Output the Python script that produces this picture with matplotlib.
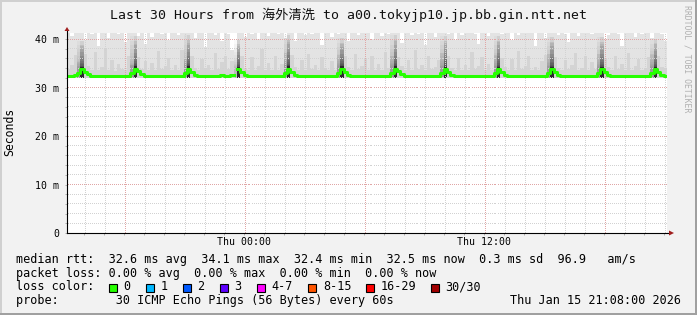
import numpy as np
import pandas as pd
import matplotlib
matplotlib.use("Agg")
import matplotlib.pyplot as plt
import matplotlib.dates as mdates
from matplotlib.patches import Rectangle, Polygon
from matplotlib.ticker import MultipleLocator, FixedLocator, FuncFormatter

W, H = 697, 315
MONO = "DejaVu Sans Mono"

# ---------------------------
# Data: rtt in ms, one sample per 10 minutes, one row per hour
# ---------------------------
start = "2026-01-14 15:08"
nan = np.nan

median_ms = [
    32.4, 32.4, 32.5, 33.0, 33.8, 33.3,
    32.7, 32.4, 32.4, 32.3, 32.4, 32.4,
    32.4, 32.3, 32.4, 32.4, 32.4, 32.4,
    32.4, 33.0, 33.8, 33.4, 32.7, 32.4,
    32.4, 32.4, 32.3, 32.4, 32.4, 32.4,
    32.4, 32.4, 32.4, 32.3, 32.4, 33.0,
    33.8, 33.3, 32.6, 32.4, 32.4, 32.4,
    32.4, 32.4, 32.3, 32.4, 32.6, 32.4,
    32.4, 32.5, nan, 33.8, 33.2, 32.6,
    32.4, 32.4, 32.4, 32.4, 32.3, 32.4,
    32.4, 32.4, 32.4, 32.4, 32.4, 33.0,
    33.8, 33.3, 32.6, 32.4, 32.4, 32.4,
    32.4, 32.3, 32.4, 32.4, 32.4, 32.4,
    32.4, 32.4, 32.4, 33.0, 33.8, 33.3,
    32.6, 32.4, 32.4, 32.4, 32.3, 32.4,
    32.4, 32.4, 32.4, 32.4, 32.4, 32.4,
    32.4, 33.0, 33.8, 33.4, 32.7, 32.4,
    32.4, 32.4, 32.3, 32.4, 32.4, 32.4,
    32.4, 32.4, 32.4, 32.4, 33.0, 33.8,
    33.3, 32.6, 32.4, 32.4, 32.4, 32.4,
    32.4, 32.3, 32.4, 32.4, 32.4, 32.4,
    32.4, 32.4, 33.0, 33.8, 33.3, 32.6,
    32.4, 32.4, 32.4, 32.4, 32.3, 32.4,
    32.4, 32.4, 32.4, 32.4, 32.4, 32.4,
    33.0, 33.8, 33.3, 32.6, 32.4, 32.4,
    32.4, 32.3, 32.4, 32.4, 32.4, 32.4,
    32.4, 32.4, 32.4, 33.0, 33.8, 33.3,
    32.6, 32.4, 32.4, 32.4, 32.3, 32.4,
    32.4, 32.4, 32.4, 32.4, 32.4, 32.4,
    32.4, 33.0, 33.8, 33.3, 32.6, 32.4,
]

# slowest ping of each sample (top of the light smoke)
smoke_max_ms = [
    42, 40.6, 42, 42, 42, 39.8,
    42, 41.0, 42, 38.6, 42, 42,
    40.2, 42, 42, 41.1, 42, 39.4,
    42, 42, 42, 40.7, 42, 38.9,
    42, 40.4, 42, 42, 41.0, 42,
    39.7, 42, 42, 40.8, 42, 42,
    42, 42, 40.3, 42, 41.2, 38.4,
    42, 42, 40.9, 42, 39.6, 42,
    41.0, 37.8, nan, 42, 42, 40.5,
    42, 41.1, 42, 39.9, 42, 42,
    40.7, 42, 42, 41.0, 42, 40.2,
    42, 42, 39.5, 42, 42, 40.8,
    42, 41.1, 42, 42, 38.8, 42,
    42, 40.5, 42, 41.0, 42, 42,
    39.6, 42, 42, 40.9, 42, 41.2,
    42, 39.9, 42, 42, 40.6, 42,
    41.0, 42, 42, 42, 39.2, 42,
    42, 40.8, 42, 41.1, 42, 38.7,
    42, 42, 40.4, 42, 42, 42,
    41.0, 42, 39.8, 42, 40.9, 42,
    42, 42, 41.1, 38.9, 42, 42,
    40.6, 42, 42, 42, 41.0, 42,
    42, 39.7, 42, 40.8, 42, 42,
    42, 41.2, 38.5, 42, 42, 40.3,
    42, 42, 42, 40.9, 42, 41.0,
    39.4, 42, 42, 40.6, 42, 42,
    42, 41.1, 42, 42, 42, 39.9,
    40.8, 42, 42, 41.0, 38.6, 42,
    42, 42, 40.5, 42, 41.1, 42,
    42, 40.2, 42, 42, 41.0, 39.5,
]

# upper pings (denser part of the smoke)
smoke_mid_ms = [
    33.8, 34.6, 36.8, 35.2, 38.5, 37.0,
    34.4, 33.6, 37.4, 33.7, 34.2, 38.2,
    33.6, 35.6, 33.5, 34.9, 33.8, 33.6,
    36.6, 34.6, 39.0, 36.2, 33.8, 35.4,
    33.6, 35.0, 33.7, 37.6, 33.9, 34.4,
    36.0, 33.6, 34.6, 33.7, 37.8, 36.0,
    39.2, 36.6, 34.0, 33.6, 35.8, 33.8,
    34.6, 33.7, 37.2, 33.9, 35.2, 36.4,
    33.8, 35.5, nan, 38.6, 36.5, 34.0,
    33.6, 36.2, 33.7, 34.4, 37.9, 33.6,
    35.0, 33.7, 36.4, 33.6, 34.8, 37.2,
    39.4, 36.8, 34.2, 33.7, 35.6, 33.6,
    37.0, 33.8, 34.6, 33.6, 36.2, 33.9,
    33.6, 35.4, 33.7, 36.8, 39.0, 36.4,
    34.2, 33.6, 37.0, 33.8, 34.4, 35.8,
    33.7, 36.6, 33.6, 34.8, 33.7, 37.4,
    34.0, 36.6, 39.6, 36.2, 34.4, 33.7,
    35.6, 33.6, 37.8, 33.9, 34.6, 33.6,
    36.4, 33.8, 34.2, 35.6, 37.2, 39.2,
    36.4, 34.0, 33.6, 36.0, 33.7, 34.6,
    33.6, 37.4, 33.8, 34.4, 36.2, 33.6,
    34.8, 33.7, 36.8, 39.4, 36.0, 34.2,
    33.6, 35.8, 33.7, 37.6, 33.8, 34.4,
    36.6, 33.6, 34.2, 33.7, 35.4, 36.8,
    37.0, 39.2, 36.2, 34.0, 33.6, 35.6,
    33.8, 34.6, 37.2, 33.6, 34.0, 36.4,
    33.6, 35.2, 33.8, 37.0, 39.0, 36.0,
    34.2, 33.6, 36.6, 33.8, 34.8, 33.6,
    37.2, 33.7, 34.4, 35.8, 33.6, 34.0,
    36.2, 37.0, 39.2, 36.4, 34.2, 33.8,
]
smoke_floor_ms = 32.0

# periodic rtt bumps: sample index, top of dark smoke, top of black core
bump_idx = [4, 20, 36, 51, 66, 82, 98, 113, 129, 145, 160, 176]
bump_smoke_top = [39.6, 40.6, 40.8, 39.8, 40.8, 40.2, 40.8, 40.6, 40.6, 40.4, 40.4, 40.0]
bump_core_top = [34.2, 34.4, 34.4, 34.2, 34.5, 34.4, 34.4, 34.3, 34.3, 34.3, 34.2, 34.2]

loss_labels = ["0", "1", "2", "3", "4-7", "8-15", "16-29", "30/30"]
loss_colors = ["#26ff00", "#00b8ff", "#0059ff", "#5e00ff",
               "#ff00ff", "#ff5500", "#ff0000", "#a10000"]

title = "Last 30 Hours from 海外清洗 to a00.tokyjp10.jp.bb.gin.ntt.net"
stats_rtt = "median rtt:  32.6 ms avg  34.1 ms max  32.4 ms min  32.5 ms now  0.3 ms sd  96.9   am/s"
stats_loss = "packet loss: 0.00 % avg  0.00 % max  0.00 % min  0.00 % now"
probe_text = "probe:        30 ICMP Echo Pings (56 Bytes) every 60s"
stamp = "Thu Jan 15 21:08:00 2026"

# ---------------------------
# Figure
# ---------------------------
fig = plt.figure(figsize=(W / 100, H / 100), dpi=100, facecolor="#f2f2f2")

def fx(px):
    return px / W

def fy(py):
    return 1 - py / H

# 3d border
fig.patches.append(Rectangle((0, fy(2)), 1, 2 / H, transform=fig.transFigure, color="#d0d0d0", lw=0))
fig.patches.append(Rectangle((0, 0), 2 / W, 1, transform=fig.transFigure, color="#d0d0d0", lw=0))
fig.patches.append(Rectangle((0, 0), 1, 2 / H, transform=fig.transFigure, color="#a0a0a0", lw=0))
fig.patches.append(Rectangle((1 - 2 / W, 0), 2 / W, 1, transform=fig.transFigure, color="#a0a0a0", lw=0))

PW, PH = 600, 200
ax = fig.add_axes([fx(67), 82 / H, PW / W, PH / H])
ax.set_facecolor("white")

n = len(median_ms)
edges = mdates.date2num(pd.date_range(start, periods=n + 1, freq="10min"))
xs = np.repeat(edges, 2)[1:-1]

def steps(vals):
    return np.ma.masked_invalid(np.repeat(np.asarray(vals, dtype=float), 2))

# smoke
ax.fill_between(xs, smoke_floor_ms, steps(smoke_max_ms), color="#e3e3e3", lw=0, zorder=1)
ax.fill_between(xs, smoke_floor_ms, steps(smoke_mid_ms), color="#d4d4d4", lw=0, zorder=1.1)

nl = 12
for p, top, core in zip(bump_idx, bump_smoke_top, bump_core_top):
    for k in range(nl):
        h = core + (top - core) * ((k + 1) / nl) ** 2
        ax.fill_between(edges[p - 1:p + 2], smoke_floor_ms, h, color="black", alpha=0.025, lw=0, zorder=1.2)
        ax.fill_between(edges[p:p + 2], smoke_floor_ms, h, color="black", alpha=0.055, lw=0, zorder=1.2)
    ax.fill_between(edges[p:p + 2], smoke_floor_ms, core, color="#2a2a2a", lw=0, zorder=1.3)

# median, colored by loss (0 lost)
ax.plot(xs, steps(median_ms), color=loss_colors[0], lw=2.2, zorder=3)

ax.set_xlim(edges[0], edges[-1])
ax.set_ylim(0, 41.24)

# ticks
ax.yaxis.set_major_locator(FixedLocator([0, 10, 20, 30, 40]))
ax.yaxis.set_minor_locator(MultipleLocator(2))
ax.yaxis.set_major_formatter(FuncFormatter(lambda v, p: "0" if v == 0 else f"{v:g} m"))
ax.xaxis.set_major_locator(mdates.HourLocator(byhour=[0, 6, 12, 18]))
ax.xaxis.set_minor_locator(mdates.HourLocator())

def xlabel(v, p):
    d = mdates.num2date(v)
    return d.strftime("%a %H:%M") if d.hour in (0, 12) else ""

ax.xaxis.set_major_formatter(FuncFormatter(xlabel))
ax.tick_params(which="both", length=1.44, width=0.72, color="#b0b0b0")
ax.tick_params(axis="x", pad=1.3, labelsize=7.1)
ax.tick_params(axis="y", pad=4.0, labelsize=7.1)
for lab in ax.get_xticklabels() + ax.get_yticklabels():
    lab.set_family(MONO)
for s in ax.spines.values():
    s.set_visible(False)

# rrdtool style dotted grid: single pixels every 2 px, on top of the smoke
def dot_grid(xlocs, ylocs, color):
    x0, x1 = ax.get_xlim()
    y0, y1 = ax.get_ylim()
    gx, gy = [], []
    run_y = (np.arange(0, PH, 2) + 0.5) / PH
    run_x = (np.arange(0, PW, 2) + 0.5) / PW
    for v in xlocs:
        f = (v - x0) / (x1 - x0)
        if 0 < f < 1:
            gx.append(np.full(run_y.size, (np.floor(f * PW) + 0.5) / PW))
            gy.append(run_y)
    for v in ylocs:
        f = (v - y0) / (y1 - y0)
        if 0 < f < 1:
            gx.append(run_x)
            gy.append(np.full(run_x.size, (np.floor(f * PH) + 0.5) / PH))
    ax.plot(np.concatenate(gx), np.concatenate(gy), linestyle="none", marker=",",
            color=color, transform=ax.transAxes, zorder=2.5)

def drop_major(minor, major):
    return [v for v in minor if np.min(np.abs(np.asarray(major) - v)) > 1e-6]

maj_x = ax.xaxis.get_majorticklocs()
maj_y = ax.yaxis.get_majorticklocs()
dot_grid(drop_major(ax.xaxis.get_minorticklocs(), maj_x),
         drop_major(ax.yaxis.get_minorticklocs(), maj_y), "#d2d2d2")
dot_grid(maj_x, maj_y, "#e0a6a6")

# axis lines with arrows
ax.plot([0, 1 + 2 / PW], [0, 0], color="black", lw=0.8, transform=ax.transAxes, clip_on=False, zorder=4)
ax.plot([0, 0], [0, 1 + 2 / PH], color="black", lw=0.8, transform=ax.transAxes, clip_on=False, zorder=4)
arrow_c = "#a01e1e"
ax.add_patch(Polygon([(1 + 7 / PW, 0), (1 + 2 / PW, 2.5 / PH), (1 + 2 / PW, -2.5 / PH)],
                     closed=True, color=arrow_c, lw=0, transform=ax.transAxes, clip_on=False, zorder=4))
ax.add_patch(Polygon([(0, 1 + 6 / PH), (-2.5 / PW, 1 + 2 / PH), (2.5 / PW, 1 + 2 / PH)],
                     closed=True, color=arrow_c, lw=0, transform=ax.transAxes, clip_on=False, zorder=4))

# texts
fig.text(fx(348), fy(15), title, ha="center", va="center", fontsize=9.5,
         family=[MONO, "Noto Sans CJK SC"], color="#111111")
fig.text(fx(10), fy(132), "Seconds", rotation=90, ha="center", va="center", fontsize=8.3, family=MONO)
fig.text(fx(687), fy(5), "RRDTOOL / TOBI OETIKER", rotation=270, ha="center", va="top",
         fontsize=5.9, family=MONO, color="#b0b0b0")

fig.text(fx(16), fy(259.3), stats_rtt, ha="left", va="center", fontsize=8.45, family=MONO)
fig.text(fx(16), fy(273.2), stats_loss, ha="left", va="center", fontsize=8.45, family=MONO)
fig.text(fx(16), fy(287.0), "loss color:", ha="left", va="center", fontsize=8.45, family=MONO)
fig.text(fx(16), fy(300.8), probe_text, ha="left", va="center", fontsize=8.45, family=MONO)
fig.text(fx(681), fy(300.8), stamp, ha="right", va="center", fontsize=8.45, family=MONO)

swatch_x = [108.7, 145.7, 182.7, 219.7, 256.7, 308.3, 366.0, 430.7]
for sx, lab, col in zip(swatch_x, loss_labels, loss_colors):
    fig.patches.append(Rectangle((fx(sx), fy(291.5)), 8 / W, 8 / H, transform=fig.transFigure,
                                 facecolor=col, edgecolor="black", lw=0.8))
    fig.text(fx(sx + 14.5), fy(287.0), lab, ha="left", va="center", fontsize=8.45, family=MONO)

fig.savefig("out.png", dpi=100, facecolor=fig.get_facecolor())
